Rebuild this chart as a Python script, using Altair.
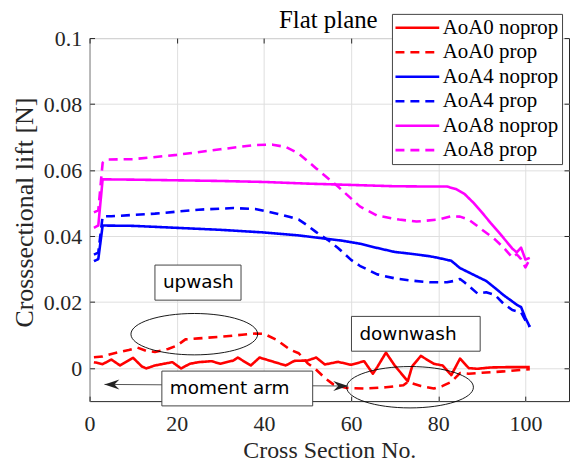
import altair as alt
import pandas as pd

# ---------------- data ----------------
title_text = ["Flat plane"]
series_names = ["AoA0 noprop", "AoA0 prop", "AoA4 noprop", "AoA4 prop", "AoA8 noprop", "AoA8 prop"]
series_colors = ["#ff0000", "#ff0000", "#0000ff", "#0000ff", "#ff00ff", "#ff00ff"]
series_dashes = [[1, 0], [9, 6], [1, 0], [9, 6], [1, 0], [9, 6]]

a0n_x = [1, 3, 5, 7, 10, 12, 13, 15, 17, 19, 21, 23, 25, 28, 30, 33, 34, 37, 39, 42, 45, 47, 50, 52, 54,
         57, 60, 63, 65, 66, 68, 70, 73, 74, 76, 79, 81, 83, 85, 87, 89, 92, 96, 101]
a0n_y = [0.0018, 0.0012, 0.0026, 0.0008, 0.0031, 0.0005, -0.0001, 0.0008, 0.0013, 0.0018, -0.0001, 0.0013,
         0.0018, 0.0021, 0.0013, 0.0023, 0.0032, 0.0008, 0.0032, 0.0020, 0.0008, 0.0022, 0.0023, 0.0032,
         0.0011, 0.0019, 0.0010, 0.0021, -0.0017, 0.0003, 0.0047, 0.0008, -0.0040, 0.0005, 0.0037, 0.0013,
         0.0008, -0.0021, 0.0029, 0.0000, -0.0002, 0.0002, 0.0003, 0.0003]

a0p_x = [1, 3, 5, 7, 9, 11, 13, 15, 18, 20, 22, 25, 30, 35, 38, 40, 43, 46, 48, 50, 52, 54, 56, 59, 63,
         68, 72, 73, 76, 79, 81, 83, 85, 87, 90, 95, 101]
a0p_y = [0.0033, 0.0035, 0.0043, 0.0049, 0.0055, 0.0062, 0.0052, 0.0049, 0.0058, 0.0068, 0.0087, 0.0090,
         0.0095, 0.0101, 0.0105, 0.0104, 0.0085, 0.0056, 0.0045, 0.0015, -0.0005, -0.0030, -0.0050,
         -0.0060, -0.0062, -0.0058, -0.0052, -0.0042, -0.0054, -0.0062, -0.0054, -0.0042, -0.0015,
         -0.0017, -0.0014, -0.0010, -0.0003]

a4n_x = [1, 2, 3, 10, 20, 30, 40, 48, 53, 58, 62, 66, 70, 74, 78, 80, 82, 83, 85, 87, 89, 91, 93, 95, 97,
         98, 99, 100, 101]
a4n_y = [0.0324, 0.0330, 0.0432, 0.0431, 0.0425, 0.0419, 0.0411, 0.0402, 0.0394, 0.0386, 0.0377, 0.0364,
         0.0352, 0.0346, 0.0339, 0.0334, 0.0328, 0.0325, 0.0303, 0.0290, 0.0277, 0.0264, 0.0243, 0.0221,
         0.0202, 0.0192, 0.0185, 0.0152, 0.0125]

a4p_x = [1, 2, 3, 5, 15, 25, 33, 38, 43, 46, 48, 50, 52, 55, 57, 60, 62, 66, 70, 74, 78, 82, 84, 85, 86,
         87, 89, 91, 93, 95, 97, 99, 100, 101]
a4p_y = [0.0344, 0.0350, 0.0460, 0.0460, 0.0468, 0.0480, 0.0485, 0.0482, 0.0468, 0.0458, 0.0450, 0.0432,
         0.0412, 0.0385, 0.0364, 0.0328, 0.0310, 0.0284, 0.0272, 0.0265, 0.0260, 0.0260, 0.0265, 0.0270,
         0.0260, 0.0249, 0.0226, 0.0230, 0.0222, 0.0195, 0.0176, 0.0169, 0.0145, 0.0125]

a8n_x = [1, 2, 3, 10, 20, 30, 40, 50, 60, 70, 80, 82, 84, 86, 88, 90, 92, 94, 96, 97, 98, 99, 100, 101]
a8n_y = [0.0425, 0.0432, 0.0572, 0.0571, 0.0569, 0.0567, 0.0564, 0.0559, 0.0555, 0.0551, 0.0550, 0.0550,
         0.0543, 0.0528, 0.0502, 0.0472, 0.0440, 0.0410, 0.0378, 0.0362, 0.0351, 0.0365, 0.0329, 0.0334]

a8p_x = [1, 2, 3, 4, 10, 20, 30, 38, 42, 45, 48, 52, 57, 62, 66, 71, 75, 80, 83, 85, 87, 89, 91, 93, 95,
         97, 98, 99, 100, 101]
a8p_y = [0.0472, 0.0478, 0.0622, 0.0632, 0.0633, 0.0646, 0.0663, 0.0676, 0.0677, 0.0670, 0.0650, 0.0605,
         0.0550, 0.0490, 0.0462, 0.0450, 0.0444, 0.0450, 0.0460, 0.0459, 0.0450, 0.0430, 0.0410, 0.0390,
         0.0365, 0.0335, 0.0345, 0.0330, 0.0305, 0.0330]

x_ticks = [0, 20, 40, 60, 80, 100]
y_ticks = [0, 0.02, 0.04, 0.06, 0.08, 0.1]

# annotation text boxes (data coordinates)
box_labels = ["upwash", "downwash", "moment arm"]
box_x1 = [15.0, 60.09, 16.59]
box_x2 = [34.75, 89.62, 51.19]
box_y1 = [0.03122, 0.01567, -0.0009]
box_y2 = [0.02059, 0.00512, -0.01145]

# ellipse centres
ell_x = [24.03, 73.53]
ell_y = [0.01028, -0.00579]

# double arrow ("moment arm")
arrow_x = [3.42, 59.33]
arrow_y = [-0.00494, -0.00543]
arrow_dir = ["left", "right"]

# ---------------- build tables ----------------
xs_all = [a0n_x, a0p_x, a4n_x, a4p_x, a8n_x, a8p_x]
ys_all = [a0n_y, a0p_y, a4n_y, a4p_y, a8n_y, a8p_y]
rows = []
for name, xs, ys in zip(series_names, xs_all, ys_all):
    assert len(xs) == len(ys), name
    for i, (xv, yv) in enumerate(zip(xs, ys)):
        rows.append({"series": name, "section": xv, "lift": yv, "order": i})
df = pd.DataFrame(rows)

boxes = pd.DataFrame({"label": box_labels, "x1": box_x1, "x2": box_x2, "y1": box_y1, "y2": box_y2})
ells = pd.DataFrame({"x": ell_x, "y": ell_y})
arrow_line = pd.DataFrame({"x": [arrow_x[0]], "x2": [arrow_x[1]], "y": [arrow_y[0]], "y2": [arrow_y[1]]})
arrow_heads = pd.DataFrame({"x": arrow_x, "y": arrow_y, "dir": arrow_dir})
title_df = pd.DataFrame({"t": title_text})

# ---------------- styling ----------------
SERIF = "Liberation Serif"
SANS = "DejaVu Sans"
AX = "#262626"
W, H = 482, 365

xsc = alt.Scale(domain=[0, 110], nice=False, zero=False)
ysc = alt.Scale(domain=[-0.01, 0.1], nice=False, zero=False)

x_axis = alt.Axis(values=x_ticks, title="Cross Section No.", grid=True, gridColor="#dfdfdf", gridWidth=1,
                  ticks=False, domain=False, labelFont=SERIF, labelFontSize=22, labelColor=AX,
                  labelPadding=13, titleFont=SERIF, titleFontSize=24, titleFontWeight="normal",
                  titleColor=AX, titleBaseline="alphabetic", titleY=57, labelFlush=False)
y_axis = alt.Axis(values=y_ticks, title="Crosssectional lift [N]", format="~g", grid=True,
                  gridColor="#dfdfdf", gridWidth=1, ticks=False, domain=False, labelFont=SERIF,
                  labelFontSize=22, labelColor=AX, labelPadding=8, titleFont=SERIF, titleFontSize=26,
                  titleFontWeight="normal", titleColor=AX, titleBaseline="alphabetic", titleX=-57,
                  titleY=175, labelFlush=False)

legend = alt.Legend(title=None, orient="none", legendX=304, legendY=-24.3, direction="vertical",
                    fillColor="white", strokeColor="#444444", padding=3.5, labelFont=SERIF,
                    labelFontSize=21, labelColor="black", labelOffset=3.3 + 23.3, rowPadding=2.6,
                    symbolType="M-1.9,0H6.1", symbolSize=121, symbolStrokeWidth=2.6, labelLimit=400)


def X(field):
    return alt.X(field, scale=xsc, axis=x_axis, title="Cross Section No.")


def Y(field):
    return alt.Y(field, scale=ysc, axis=y_axis, title="Crosssectional lift [N]")


lines = alt.Chart(df).mark_line(strokeWidth=2.6, strokeJoin="round").encode(
    x=X("section:Q"),
    y=Y("lift:Q"),
    color=alt.Color("series:N", scale=alt.Scale(domain=series_names, range=series_colors), legend=legend),
    strokeDash=alt.StrokeDash("series:N", scale=alt.Scale(domain=series_names, range=series_dashes),
                              legend=legend),
    order="order:Q",
)

ELLIPSE = ("M-1,0C-1,-0.1803,-0.5523,-0.3265,0,-0.3265C0.5523,-0.3265,1,-0.1803,1,0"
           "C1,0.1803,0.5523,0.3265,0,0.3265C-0.5523,0.3265,-1,0.1803,-1,0Z")
ellipses = alt.Chart(ells).mark_point(shape=ELLIPSE, size=16231, filled=False, stroke="black",
                                      strokeWidth=0.9, opacity=1).encode(x=X("x:Q"), y=Y("y:Q"))

arrow_rule = alt.Chart(arrow_line).mark_rule(color="#555555", strokeWidth=1).encode(
    x=X("x:Q"), x2="x2:Q", y=Y("y:Q"), y2="y2:Q")

HEAD_L = "M0,0L1.5,-0.5L1,0L1.5,0.5Z"
HEAD_R = "M0,0L-1.5,-0.5L-1,0L-1.5,0.5Z"
heads = alt.Chart(arrow_heads).mark_point(size=400, filled=True, color="#222222", opacity=1,
                                          strokeWidth=0).encode(
    x=X("x:Q"), y=Y("y:Q"),
    shape=alt.Shape("dir:N", scale=alt.Scale(domain=["left", "right"], range=[HEAD_L, HEAD_R]),
                    legend=None))

rects = alt.Chart(boxes).mark_rect(fill="white", stroke="#444444", strokeWidth=1).encode(
    x=X("x1:Q"), x2="x2:Q", y=Y("y1:Q"), y2="y2:Q")

texts = alt.Chart(boxes).mark_text(align="left", baseline="alphabetic", dx=8, dy=23.5, font=SANS,
                                   fontSize=18.5, color="black").encode(
    x=X("x1:Q"), y=Y("y1:Q"), text="label:N")

# chart title drawn as a text mark centred over the plot area
title_mark = alt.Chart(title_df).mark_text(align="center", baseline="alphabetic", font=SERIF,
                                           fontSize=25, color="black").encode(
    x=alt.value(W / 2 - 1), y=alt.value(-10.3), text="t:N")

main = alt.layer(lines, ellipses, arrow_rule, heads, rects, texts, title_mark)

# inward ticks on all four sides
tick_kw = dict(labels=False, grid=False, domain=False, ticks=True, tickSize=5, tickColor=AX,
               tickWidth=1, title=None)
ticks_a = alt.Chart(df).mark_point(opacity=0).encode(
    x=alt.X("section:Q", scale=xsc, axis=alt.Axis(values=x_ticks, orient="top", offset=-H, **tick_kw)),
    y=alt.Y("lift:Q", scale=ysc, axis=alt.Axis(values=y_ticks, orient="right", offset=-W, **tick_kw)),
)
ticks_b = alt.Chart(df).mark_point(opacity=0).encode(
    x=alt.X("section:Q", scale=xsc, axis=alt.Axis(values=x_ticks, orient="bottom", offset=-H, **tick_kw)),
    y=alt.Y("lift:Q", scale=ysc, axis=alt.Axis(values=y_ticks, orient="left", offset=-W, **tick_kw)),
)

chart = alt.layer(main, ticks_a, ticks_b).resolve_scale(x="independent", y="independent").properties(
    width=W, height=H,
    autosize=alt.AutoSizeParams(type="none"),
    padding={"left": 82, "top": 29, "right": 2, "bottom": 62},
    background="white",
).configure_view(stroke=AX, strokeWidth=1)

chart.save("out.html", embed_options={"renderer": "svg", "actions": False})
